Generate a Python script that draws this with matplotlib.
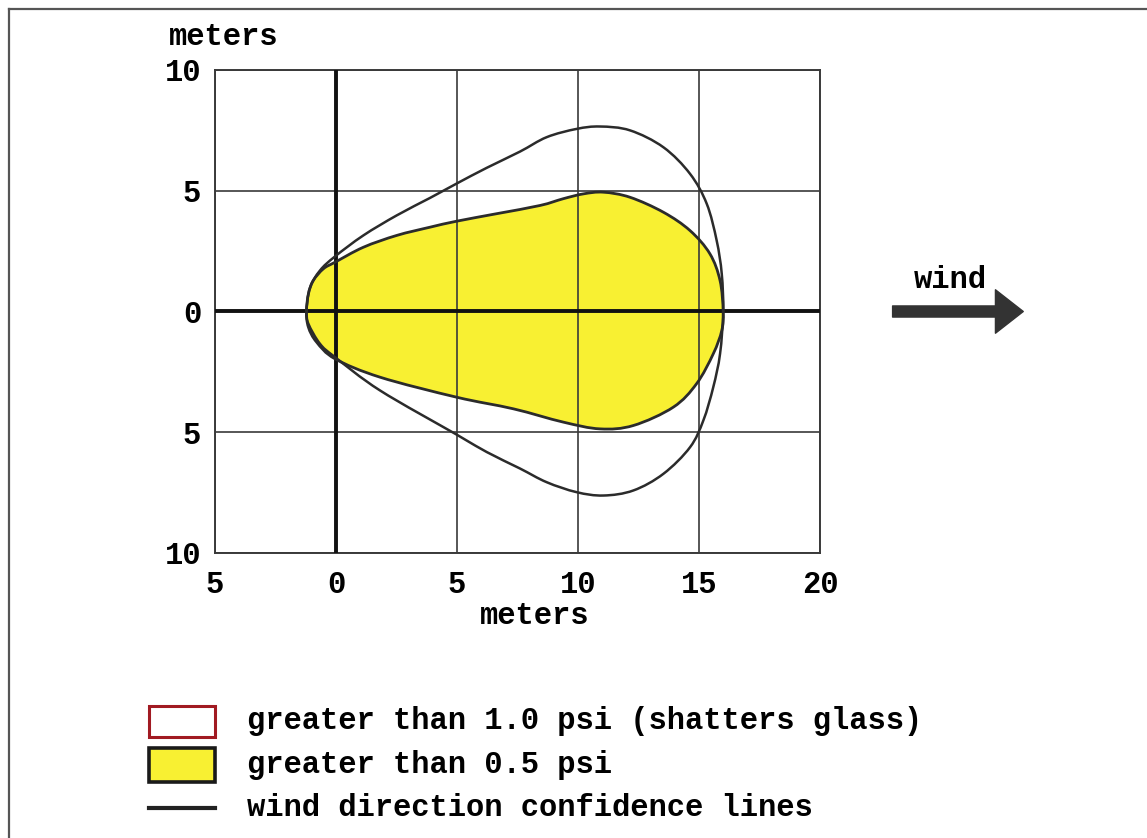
import numpy as np
import matplotlib.pyplot as plt
from matplotlib.patches import Rectangle, FancyArrow, PathPatch
from matplotlib.path import Path
from matplotlib.lines import Line2D

plt.rcParams['font.family'] = ['Liberation Mono', 'DejaVu Sans Mono']
plt.rcParams['font.weight'] = 'bold'

# overpressure contour, > 0.5 psi (upper and lower edge)
yellow_up_x = [-1.22, -1.14, -0.94, -0.52, -0.04, 1.13, 2.51, 3.88, 4.99, 6.64,
               8.43, 9.39, 10.22, 11.05, 12.15, 13.53, 14.63, 15.45, 15.87, 16.0]
yellow_up_y = [0.0, 0.73, 1.28, 1.77, 2.04, 2.66, 3.15, 3.49, 3.74, 4.05,
               4.39, 4.67, 4.87, 4.94, 4.73, 4.11, 3.35, 2.39, 1.28, 0.0]
yellow_lo_x = [-1.22, -1.14, -0.80, -0.04, 1.82, 4.99, 7.33, 9.39, 10.91,
               12.29, 13.94, 14.90, 15.59, 15.94, 16.0]
yellow_lo_y = [0.0, -0.65, -1.27, -1.96, -2.72, -3.55, -4.03, -4.58, -4.86,
               -4.72, -3.96, -2.99, -1.75, -0.79, 0.0]

# wind direction confidence lines
outer_up_x = [-1.22, -1.08, -0.66, -0.04, 1.13, 2.51, 3.88, 4.99, 6.23, 7.60,
              8.71, 9.94, 10.91, 12.15, 13.53, 14.63, 15.32, 15.73, 15.94, 16.0]
outer_up_y = [0.0, 0.97, 1.70, 2.28, 3.15, 3.98, 4.70, 5.30, 5.95, 6.62,
              7.22, 7.56, 7.66, 7.50, 6.80, 5.70, 4.46, 2.94, 1.56, 0.0]
outer_lo_x = [-1.22, -1.14, -0.66, -0.04, 1.82, 4.99, 6.23, 7.60, 8.71, 9.94,
              11.05, 12.29, 13.53, 14.63, 15.18, 15.59, 15.87, 16.0]
outer_lo_y = [0.0, -0.51, -1.34, -1.89, -3.27, -5.10, -5.82, -6.50, -7.07, -7.48,
              -7.62, -7.41, -6.72, -5.62, -4.51, -3.13, -1.75, 0.0]

x_ticks = [-5, 0, 5, 10, 15, 20]
x_labels = ['5', '0', '5', '10', '15', '20']
y_ticks = [-10, -5, 0, 5, 10]
y_labels = ['10', '5', '0', '5', '10']

legend_labels = ['greater than 1.0 psi (shatters glass)',
                 'greater than 0.5 psi',
                 'wind direction confidence lines']


def smooth_loop(xs, ys):
    """Closed Catmull-Rom path through the points, as cubic Bezier segments."""
    p = np.column_stack([xs, ys])
    n = len(p)
    verts = [p[0]]
    codes = [Path.MOVETO]
    for i in range(n):
        p0, p1, p2, p3 = p[i - 1], p[i], p[(i + 1) % n], p[(i + 2) % n]
        verts += [p1 + (p2 - p0) / 6, p2 - (p3 - p1) / 6, p2]
        codes += [Path.CURVE4] * 3
    return Path(verts, codes)


W, H = 1147, 838
fig = plt.figure(figsize=(W / 100, H / 100), dpi=100)
ax = fig.add_axes([215 / W, 1 - 553 / H, 605 / W, 483 / H])

yellow = '#f8f032'
dark = '#2b2b2b'

# closed outlines: upper edge left->right, lower edge back right->left (drop duplicate tips)
yx = yellow_up_x + yellow_lo_x[::-1][1:-1]
yy = yellow_up_y + yellow_lo_y[::-1][1:-1]
ox = outer_up_x + outer_lo_x[::-1][1:-1]
oy = outer_up_y + outer_lo_y[::-1][1:-1]

ax.add_patch(PathPatch(smooth_loop(yx, yy), facecolor=yellow, edgecolor='none', zorder=1))

ax.set_xlim(-5, 20)
ax.set_ylim(-10, 10)
ax.set_xticks(x_ticks)
ax.set_xticklabels(x_labels)
ax.set_yticks(y_ticks)
ax.set_yticklabels(y_labels)
ax.tick_params(length=0, labelsize=22, pad=10)
ax.tick_params(axis='x', pad=12)
ax.grid(True, color='#3a3a3a', lw=1.2, zorder=2)
ax.set_axisbelow(False)
for s in ax.spines.values():
    s.set_color('#3a3a3a')
    s.set_linewidth(1.4)

ax.add_patch(PathPatch(smooth_loop(yx, yy), facecolor='none', edgecolor=dark, lw=2.0, zorder=4))
ax.add_patch(PathPatch(smooth_loop(ox, oy), facecolor='none', edgecolor=dark, lw=1.8, zorder=4))

ax.axhline(0, color='#111111', lw=2.8, zorder=3)
ax.axvline(0, color='#111111', lw=2.8, zorder=3)

fig.text(535 / W, 1 - 616 / H, 'meters', fontsize=22, ha='center', va='center')
fig.text(224 / W, 1 - 37 / H, 'meters', fontsize=22, ha='center', va='center')

# wind arrow to the right of the plot
arrow = FancyArrow(23.0, 0, 5.4, 0, width=0.46, head_width=1.8, head_length=1.15,
                   length_includes_head=True, color='#333333', clip_on=False,
                   joinstyle='round', capstyle='round', zorder=5)
ax.add_patch(arrow)
ax.text(25.4, 1.3, 'wind', fontsize=22, ha='center', va='center', clip_on=False)

# page frame
fig.add_artist(Line2D([9 / W, 9 / W], [0, 1 - 9 / H], color='#555555', lw=1.6))
fig.add_artist(Line2D([9 / W, 1], [1 - 9 / H, 1 - 9 / H], color='#555555', lw=1.6))


# legend
def fig_rect(x0, y0, x1, y1, **kw):
    return Rectangle((x0 / W, 1 - y1 / H), (x1 - x0) / W, (y1 - y0) / H,
                     transform=fig.transFigure, **kw)


fig.add_artist(fig_rect(149, 706, 215, 737, facecolor='white', edgecolor='#a11a22', lw=2.2))
fig.add_artist(fig_rect(149, 748, 215, 782, facecolor=yellow, edgecolor='#1a1a1a', lw=2.6))
fig.add_artist(Line2D([149 / W, 215 / W], [1 - 808 / H, 1 - 808 / H], color='#222222', lw=3))
for label, ypix in zip(legend_labels, [721, 765, 808]):
    fig.text(247 / W, 1 - ypix / H, label, fontsize=22, ha='left', va='center')

fig.savefig('out.png', dpi=100)
